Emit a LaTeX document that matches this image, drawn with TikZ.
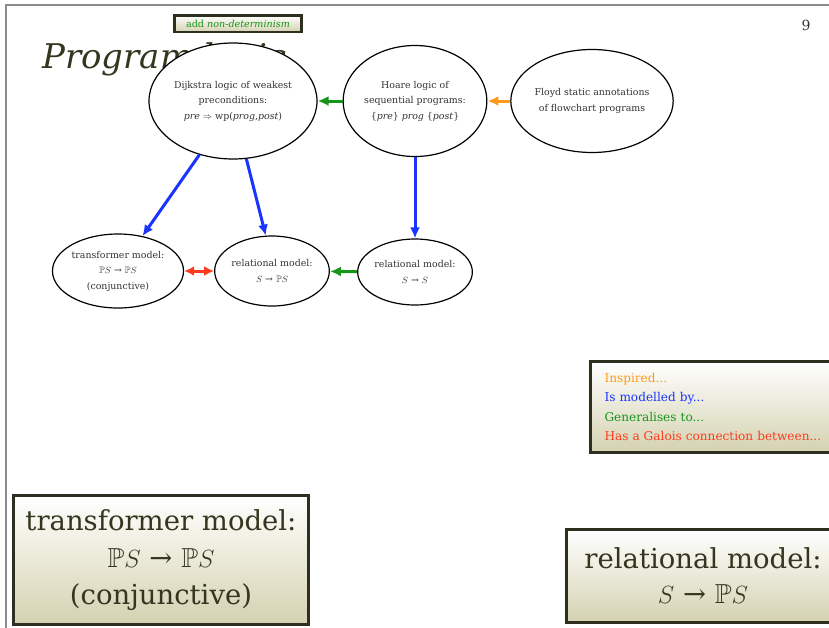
\documentclass[tikz,border=0pt]{standalone}
\usepackage{amssymb}
\usepackage{fontspec}
\setmainfont{DejaVu Serif}
\usepackage{xcolor}
\usetikzlibrary{shapes.geometric, arrows.meta, positioning}

\definecolor{slidegray}{HTML}{8C8C8C}
\definecolor{boxborder}{HTML}{2E2F20}
\definecolor{boxbeige}{HTML}{D4D2B0}
\definecolor{inkgray}{HTML}{333333}
\definecolor{titleolive}{HTML}{35361F}
\definecolor{inspiredorange}{HTML}{FF9A1A}
\definecolor{modelblue}{HTML}{1A33FF}
\definecolor{generalgreen}{HTML}{17941A}
\definecolor{galoisred}{HTML}{FF3B1F}

\tikzset{
  logic/.style={draw, ellipse, line width=1.2pt, fill=white, align=center, inner sep=0pt, text=inkgray, font=\fontsize{9.4}{15.5}\selectfont},
  notebox/.style={draw=boxborder, line width=3pt, top color=white, bottom color=boxbeige, align=center, text=titleolive},
  link/.style={line width=3pt, -{Latex[length=11pt,width=10pt]}},
}

\begin{document}
\begin{tikzpicture}[x=1pt, y=-1pt]
	\useasboundingbox (0,0) rectangle (829,627);
	
	\draw[slidegray, line width=2pt] (6,640) -- (6,5) -- (840,5);
	\node[font=\fontsize{14}{14}\selectfont, text=inkgray] (pagenum) at (806,25) {9};
	\node[anchor=base west, inner sep=0pt, font=\fontsize{34}{34}\selectfont\itshape, text=titleolive] (title) at (42,68) {Program logic};
	
	\node[notebox, line width=2.5pt, minimum width=127, minimum height=16.5, inner sep=0pt, font=\fontsize{9.6}{11}\selectfont, text=generalgreen] (addnondet) at (238,23.5) {add \textit{non-determinism}};
	
	\node[logic, minimum width=168, minimum height=116] (dijkstra) at (233,101) {Dijkstra logic of weakest\\preconditions:\\\textit{pre} $\Rightarrow$ wp(\textit{prog},\textit{post})};
	
	\node[logic, minimum width=143, minimum height=111] (hoare) at (415,101) {Hoare logic of\\sequential programs:\\\{\textit{pre}\} \textit{prog} \{\textit{post}\}};
	
	\node[logic, minimum width=162, minimum height=103] (floyd) at (592,101) {Floyd static annotations\\of flowchart programs};
	
	\node[logic, minimum width=122, minimum height=74] (transformer) at (118,271) {transformer model:\\$\mathbb{P}S$ → $\mathbb{P}S$\\(conjunctive)};
	
	\node[logic, minimum width=109, minimum height=70] (relpower) at (272,271) {relational model:\\$S$ → $\mathbb{P}S$};
	
	\node[logic, minimum width=110, minimum height=66] (relstate) at (415,272) {relational model:\\$S$ → $S$};
	
	\draw[link, generalgreen] (hoare) -- (dijkstra);
	\draw[link, inspiredorange] (floyd) -- (hoare);
	\draw[link, modelblue] (dijkstra.238) -- (transformer.55);
	\draw[link, modelblue] (dijkstra.283) -- (relpower.100);
	\draw[link, modelblue] (hoare) -- (relstate);
	\draw[line width=3pt, galoisred, {Latex[length=10pt,width=10pt]}-{Latex[length=10pt,width=10pt]}] (transformer) -- (relpower);
	\draw[link, generalgreen] (relstate) -- (relpower);
	
	\node[notebox, anchor=west, text width=226, inner xsep=14.5, minimum height=91, align=left, font=\fontsize{12.1}{19.3}\selectfont] (legend) at (588.5,407) {\textcolor{inspiredorange}{Inspired...}\\\textcolor{modelblue}{Is modelled by...}\\\textcolor{generalgreen}{Generalises to...}\\\textcolor{galoisred}{Has a Galois connection between...}};
	
	\node[notebox, minimum width=295, minimum height=129, inner sep=0pt, font=\fontsize{27.5}{37}\selectfont] (bigtransformer) at (161,560) {transformer model:\\$\mathbb{P}S$ → $\mathbb{P}S$\\(conjunctive)};
	
	\node[notebox, minimum width=274, minimum height=93, inner sep=0pt, font=\fontsize{27.5}{35}\selectfont] (bigrelational) at (703,576) {relational model:\\$S$ → $\mathbb{P}S$};
\end{tikzpicture}
\end{document}
